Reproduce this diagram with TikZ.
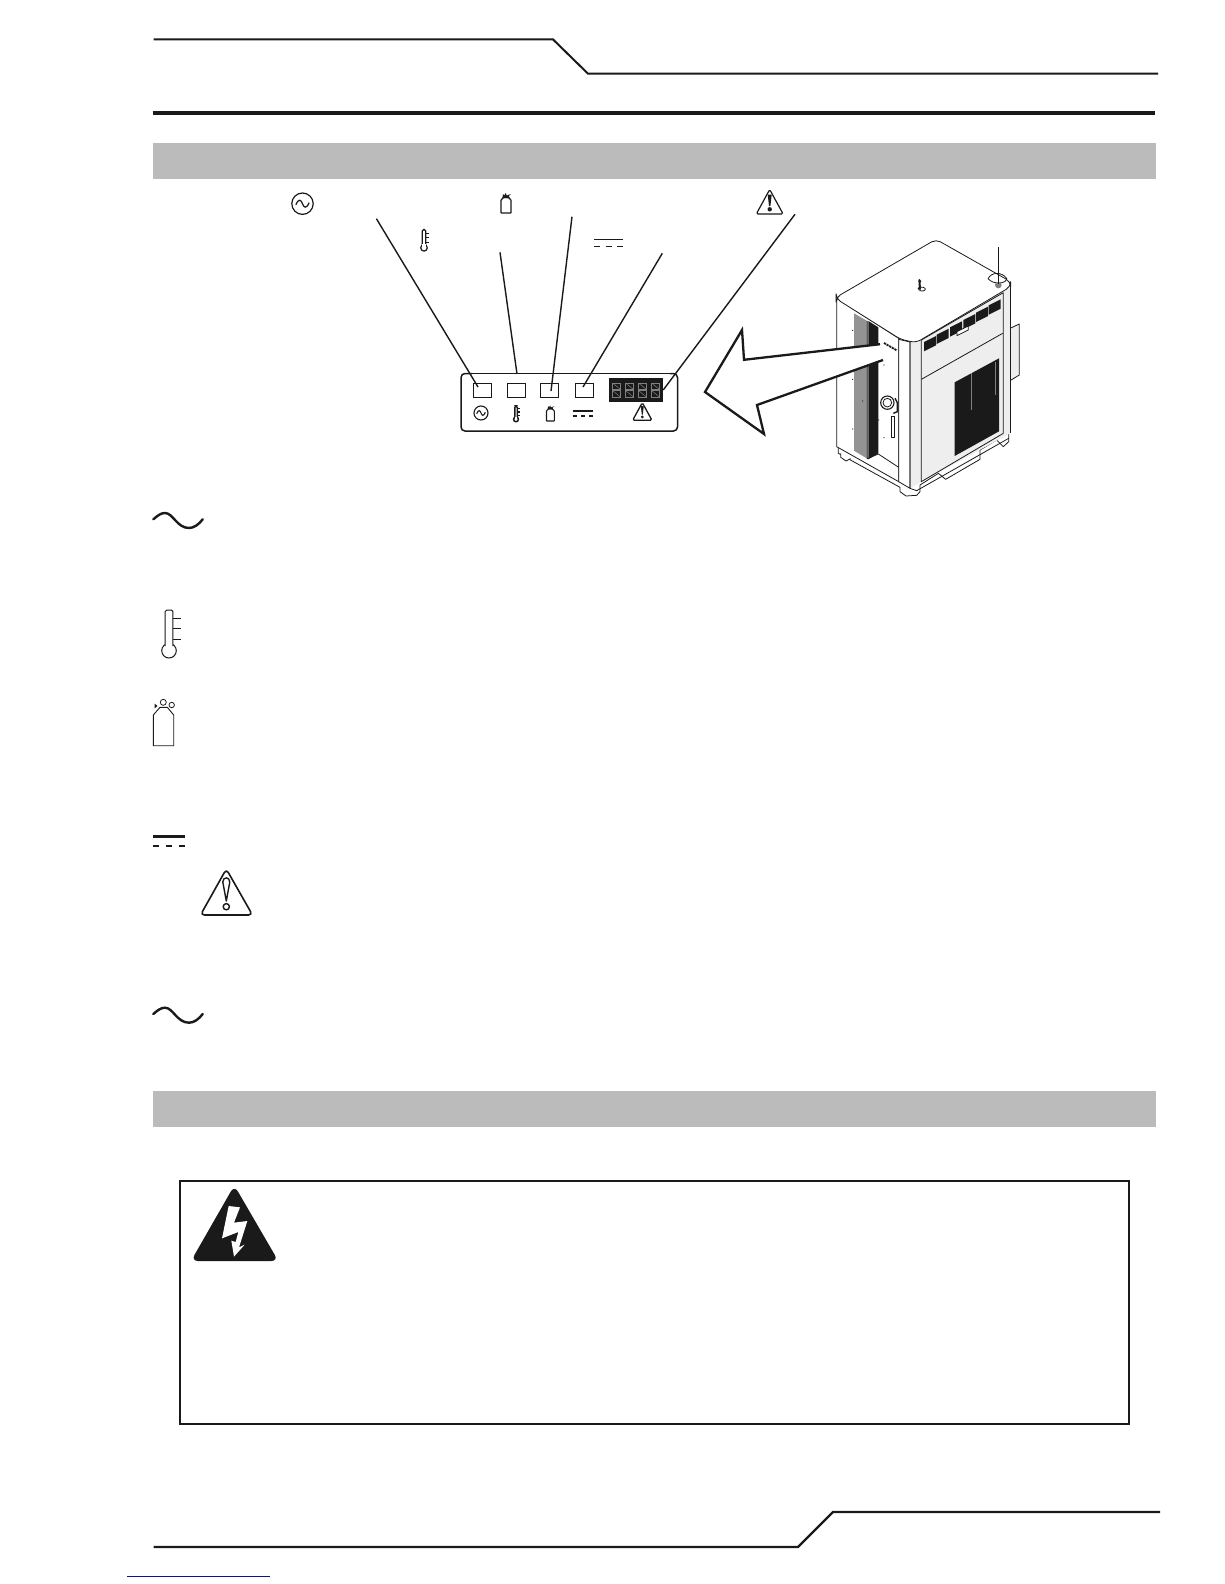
\documentclass[tikz,border=0pt]{standalone}
\definecolor{bandgray}{HTML}{BBBBBB}
\definecolor{ink}{HTML}{1A1A1A}
\definecolor{panelgray}{HTML}{EEEEEE}
\definecolor{linkblue}{HTML}{101090}
\tikzset{
  rule/.style={ink,line width=#1},
  band/.style={fill=bandgray,draw=none},
  leader/.style={ink,line width=1.4pt},
  mach/.style={ink,line width=.8pt,line join=round},
  lamp/.style={draw=ink,line width=1pt,fill=white,minimum width=18pt,minimum height=14pt,inner sep=0pt},
  pics/sinewave/.style={code={
    \draw[ink,line width=#1,line cap=round] (-24.7,0) .. controls (-20,-4) and (-17,-6.3) .. (-13,-6.3) .. controls (-5,-6.3) and (-1,8.7) .. (11,8.7) .. controls (16,8.7) and (21,5) .. (24.7,0);}},
  pics/acsmall/.style={code={
    \draw[ink,line width=#1] (0,0) circle (1);
    \draw[ink,line width=#1] (-.62,.1) .. controls (-.35,-.55) and (-.12,-.35) .. (0,0) .. controls (.12,.35) and (.35,.55) .. (.62,-.1);}},
  pics/thermo/.style={code={
    \draw[ink,line width=#1,fill=white] (0,20.7) circle (7.3);
    \draw[ink,line width=#1,fill=white,rounded corners=1.5pt] (-3.8,16) -- (-3.8,-20) -- (3.8,-20) -- (3.8,16);
    \fill[white] (-3.4,13) rectangle (3.4,20);
    \foreach \yy in {-11.7,-1.7,9.3}{\draw[ink,line width=#1] (3.8,\yy) -- (11.7,\yy);}}},
  pics/cylsmall/.style={code={
    \draw[ink,line width=#1,fill=white,rounded corners=.5pt] (-5,9) -- (-5,-4) -- (-2.5,-6.5) -- (2.5,-6.5) -- (5,-4) -- (5,9) -- cycle;
    \fill[ink] (-3.6,-6) -- (-3,-10) -- (-1.6,-8.5) -- (-.5,-11) -- (.8,-8.5) -- (5,-10) -- (2.8,-8) -- (3.6,-6) -- cycle;}},
  pics/dcsmall/.style={code={
    \draw[ink,line width=#1] (-14.5,-3.5) -- (14.5,-3.5);
    \draw[ink,line width=#1] (-14.5,3.5) -- (-8.5,3.5) (-3,3.5) -- (3,3.5) (8.5,3.5) -- (14.5,3.5);}},
  pics/warnsmall/.style={code={
    \draw[ink,line width=#1,rounded corners=1.5pt,line join=round] (0,-13) -- (13.4,11.5) -- (-13.4,11.5) -- cycle;
    \fill[ink] (-2,-8) -- (2,-8) -- (.7,3.5) -- (-.7,3.5) -- cycle;
    \fill[ink] (0,6.8) circle (2.2);}}
}
\begin{document}
\begin{tikzpicture}[x=1pt,y=-1pt,line join=miter]
\useasboundingbox (0,0) rectangle (1224,1584);
\fill[white] (0,0) rectangle (1224,1584);

% header
\coordinate (h1) at (153.5,39.4); \coordinate (h2) at (553,39.4);
\coordinate (h3) at (588,73.7); \coordinate (h4) at (1158,73.7);
\draw[rule=2pt] (h1) -- (h2) -- (h3) -- (h4);
\coordinate (r1) at (152.5,112.6); \coordinate (r2) at (1155,112.6);
\draw[rule=4pt] (r1) -- (r2);
\fill[band] (152.5,142.5) rectangle (1155.5,179);
\fill[band] (152.5,1091) rectangle (1155.5,1126.5);

% machine
\begin{scope}[shift={(780,220)},scale=1/3]
 \draw[mach,fill=panelgray] (690,325) -- (718,312) -- (718,465) -- (690,482) -- cycle;
 \draw[mach,fill=white] (175,672) -- (175,700) -- (360,802) -- (360,815) -- (378,828) -- (410,826) -- (420,815) -- (420,795) -- (475,760) -- (497,778) -- (600,718) -- (600,690) -- (650,660) -- (670,680) -- (686,665) -- (686,632) -- (420,780) -- (360,770) -- cycle;
 \draw[mach,fill=white] (182,700) -- (182,712) -- (198,723) -- (212,716);
 \draw[mach,fill=white] (170,235) -- (170,680) -- (356,785) -- (356,355) -- cycle;
 \fill[panelgray] (390,362) -- (690,198) -- (690,640) -- (390,805) -- cycle;
 \draw[mach,fill=white] (356,358) -- (390,366) -- (390,805) -- (356,785) -- cycle;
 \draw[mach] (390,366) -- (390,805) -- (410,812) -- (686,655);
 \draw[mach] (424,360) -- (424,785) -- (670,640) -- (670,218) -- (424,360);
 \draw[mach] (690,198) -- (690,640);
 \draw[mach] (424,478) -- (668,340);
 \foreach \ax/\ay in {432/366,470/344,510/322,550/300,588/278,626/256}{
   \fill[ink] (\ax,\ay) -- ++(36,-18) -- ++(0,28) -- ++(-36,18) -- cycle;}
 \draw[mach,fill=white] (531,335) -- (565,318) -- (565,330) -- (531,347) -- cycle;
 \fill[ink] (524,487) -- (657,415) -- (657,634) -- (524,708) -- cycle;
 \draw[gray,line width=.4pt] (574,460) -- (574,570) (646,425) -- (646,525);
 \fill[gray!85] (222,280) -- (262,303) -- (262,716) -- (222,692) -- cycle;
 \fill[ink] (265,303) -- (295,322) -- (295,700) -- (265,718) -- cycle;
 \draw[mach] (262,303) -- (262,716) -- (295,702) -- (356,742);
 \fill[ink] (218,331) circle (1.8) (218,478) circle (1.8) (248,543) circle (1.8) (218,627) circle (1.8) (312,435) circle (1.8) (312,545) circle (1.8) (312,653) circle (1.8) (296,600) circle (1.8);
 \draw[ink,line width=1.1pt,fill=white] (322,548) circle (20);
 \draw[mach] (322,548) circle (13);
 \draw[ink,line width=1.4pt] (345,535) -- (352,548) -- (352,575) -- (340,580);
 \draw[mach,fill=white] (334,590) rectangle (342,653);
 \draw[mach,fill=white,rounded corners=5pt] (168,236) -- (168,232) -- (468,58) -- (692,185) -- (692,200) -- (408,368) -- (362,358) -- cycle;
 \draw[mach] (414,204) .. controls (425,198) and (438,203) .. (436,209) .. controls (430,216) and (416,214) .. (414,204);
 \draw[ink,line width=2pt,line cap=round] (418,180) -- (420,207);
 \fill[ink] (420,184) circle (4);
 \draw[mach] (624,176) .. controls (635,155) and (665,155) .. (680,175) .. controls (680,192) and (640,195) .. (624,176);
 \fill[gray] (655,195) circle (10);
 \coordinate (antTop) at (655,80); \coordinate (antBot) at (655,192);
 \draw[ink,line width=1pt] (antTop) -- (antBot);
\end{scope}

% big arrow
\fill[white] (705,392) -- (742,330) -- (744,359.8) -- (881,344) -- (884,359) -- (757,405) -- (764,434) -- cycle;
\draw[ink,line width=2.3pt,line join=miter] (880,344.2) -- (744,359.8) -- (742,330) -- (705,392) -- (764,434) -- (757,405) -- (883,360);
% name plate on the machine
\draw[ink,line width=1.8pt,dash pattern=on 2.2pt off .8pt] (884,343) -- (897,350.5);

% panel
\draw[ink,line width=1.5pt,rounded corners=4pt] (472,373.5) -- (461,373.5) -- (461,431) -- (677.5,431) -- (677.5,373.5) -- (670,373.5);
\draw[ink,line width=1pt] (472,373.8) -- (670,373.8);
\node[lamp] (s1) at (482,390.5) {};
\node[lamp] (s2) at (516,390.5) {};
\node[lamp] (s3) at (549.5,390.5) {};
\node[lamp] (s4) at (584,390.5) {};
\node[fill=ink,minimum width=54pt,minimum height=24pt,inner sep=0pt] (disp) at (636,390) {};
\foreach \dx in {612.5,625.5,638.5,651.5}{
  \draw[gray,line width=.8pt] (\dx,383) rectangle ++(8,6.5);
  \draw[gray,line width=.8pt] (\dx,390.5) rectangle ++(8,6.5);
  \draw[gray,line width=.5pt] (\dx,383) -- ++(8,6.5) (\dx,390.5) -- ++(8,6.5);}
% panel symbols
\pic[scale=7] at (481,413) {acsmall=1.1pt};
\pic[scale=.33] at (516,412.5) {thermo=1.5pt};
\pic[scale=.78] at (550.4,414) {cylsmall=1.1pt};
\pic[scale=.72] at (583,413.7) {dcsmall=1.6pt};
\pic[scale=.72] at (642.3,412) {warnsmall=1.3pt};

% symbols above the leaders
\pic[scale=10.7] at (302.5,203.7) {acsmall=1.2pt};
\pic[scale=.45] at (424,238.5) {thermo=1.2pt};
\pic[scale=1] at (506,204) {cylsmall=1.2pt};
\pic[scale=1] at (608.5,243.2) {dcsmall=1.5pt};
\pic[scale=1] at (769.7,202.5) {warnsmall=1.2pt};

% leaders
\coordinate (l1) at (376.4,218.7); \coordinate (e1) at (478,387);
\coordinate (l2) at (500,252.3);   \coordinate (e2) at (517,374);
\coordinate (l3) at (572,216.7);   \coordinate (e3) at (551,391);
\coordinate (l4) at (662.3,253.3); \coordinate (e4) at (583,387);
\coordinate (l5) at (795,214.3);   \coordinate (e5) at (disp.east);
\draw[leader] (l1) -- (e1);
\draw[leader] (l2) -- (e2);
\draw[leader] (l3) -- (e3);
\draw[leader] (l4) -- (e4);
\draw[leader] (l5) -- (e5);

% big symbols
\pic at (178,519.3) {sinewave=2.4pt};
\pic at (169,630) {thermo=1pt};

\draw[ink,line width=.9pt] (153.3,745.7) -- (153.3,715) -- (160,707.3) -- (167.3,707.3) -- (173.7,715) -- (173.7,745.7) -- cycle;
\draw[ink,line width=.8pt] (163.3,702.3) circle (3) (171.7,705) circle (2.7);
\fill[ink] (154.5,703.5) -- (157.5,706) -- (154.5,708.5) -- cycle;

\draw[ink,line width=3pt] (153,836.3) -- (185,836.3);
\draw[ink,line width=2pt] (153,845.7) -- (159.3,845.7) (166,845.7) -- (172,845.7) (179,845.7) -- (185,845.7);

\draw[ink,line width=1.6pt,rounded corners=4pt,line join=round] (226.3,869) -- (252.5,915) -- (200.5,915) -- cycle;
\draw[ink,line width=1.4pt,line join=round] (226.3,901) -- (222.8,882) .. controls (222.8,876.5) and (229.8,876.5) .. (229.8,882) -- cycle;
\draw[ink,line width=1.4pt] (226.3,906.7) circle (3.1);

\pic at (178,1014) {sinewave=2.4pt};

% warning box
\draw[ink,line width=2pt] (180,1180.5) rectangle (1129,1424);
\begin{scope}[shift={(170,1170)},scale=1/3]
 \fill[ink,rounded corners=7pt] (193,46) -- (325,273) -- (63,273) -- cycle;
 \fill[white] (176,108) -- (210,112) -- (192,158) -- (232,153) -- (207,232) -- (224,224) -- (192,260) -- (184,212) -- (197,216) -- (205,186) -- (156,205) -- cycle;
\end{scope}

% footer
\coordinate (f1) at (153.5,1547); \coordinate (f2) at (798,1547);
\coordinate (f3) at (833,1512);   \coordinate (f4) at (1160,1512);
\draw[rule=2.2pt] (f1) -- (f2) -- (f3) -- (f4);
\coordinate (b1) at (127,1576); \coordinate (b2) at (270,1576);
\draw[linkblue,line width=1pt] (b1) -- (b2);
\end{tikzpicture}
\end{document}
